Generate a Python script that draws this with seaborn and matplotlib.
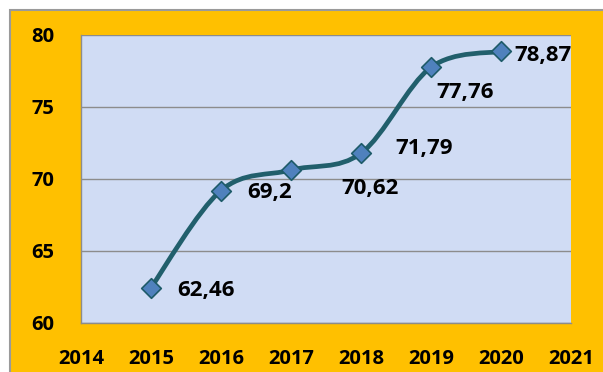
import matplotlib
matplotlib.use("Agg")
import matplotlib.pyplot as plt
from matplotlib.path import Path
from matplotlib.patches import PathPatch, Rectangle
import numpy as np
import pandas as pd
import seaborn as sns

# Values per year
years = [2015, 2016, 2017, 2018, 2019, 2020]
values = [62.46, 69.2, 70.62, 71.79, 77.76, 78.87]
value_labels = ["62,46", "69,2", "70,62", "71,79", "77,76", "78,87"]
x_ticks = [2014, 2015, 2016, 2017, 2018, 2019, 2020, 2021]
y_ticks = [60, 65, 70, 75, 80]

# label offsets in pixels from each marker
label_offsets = [(26, -3), (26, -2), (50, -18), (34, 5), (5, -25), (13, -4)]

sns.set_style("white")
plt.rcParams["font.family"] = ["Open Sans", "DejaVu Sans"]

W, H, DPI = 603, 372, 100
fig = plt.figure(figsize=(W / DPI, H / DPI), dpi=DPI, facecolor="white")

# yellow chart frame
frame = Rectangle((10 / W, -0.02), 1.0, 1 - 10 / H + 0.02, transform=fig.transFigure,
                  facecolor="#FFC000", edgecolor="#9A9A9A", linewidth=1.5, zorder=-10)
fig.add_artist(frame)

ax = fig.add_axes([81 / W, 49 / H, 490 / W, 288 / H])
ax.set_zorder(1)
ax.set_facecolor("#D0DCF4")

df = pd.DataFrame({"year": years, "value": values})

# smoothed line through the points (cubic Bezier segments, Catmull-Rom style)
pts = np.column_stack([years, values]).astype(float)
ext = np.vstack([pts[0], pts, pts[-1]])
verts = [tuple(pts[0])]
codes = [Path.MOVETO]
for i in range(len(pts) - 1):
    p0, p1, p2, p3 = ext[i], ext[i + 1], ext[i + 2], ext[i + 3]
    c1 = p1 + (p2 - p0) / 6.0
    c2 = p2 - (p3 - p1) / 6.0
    verts += [tuple(c1), tuple(c2), tuple(p2)]
    codes += [Path.CURVE4, Path.CURVE4, Path.CURVE4]
curve = PathPatch(Path(verts, codes), facecolor="none", edgecolor="#215F6C",
                  linewidth=3.4, capstyle="round", joinstyle="round", zorder=3)
ax.add_patch(curve)

sns.scatterplot(data=df, x="year", y="value", marker="D", s=100,
                color="#4F81BD", edgecolor="#1E5B69", linewidth=1.2,
                zorder=4, ax=ax, legend=False, clip_on=False)

for x, y, lab, (dx, dy) in zip(years, values, value_labels, label_offsets):
    ax.annotate(lab, (x, y), xytext=(dx, dy), textcoords="offset pixels",
                ha="left", va="center", fontsize=16, fontweight="bold",
                color="black", zorder=5, annotation_clip=False)

ax.set_xlim(2014, 2021)
ax.set_ylim(60, 80)
ax.set_xticks(x_ticks)
ax.set_yticks(y_ticks)
ax.set_xticklabels([str(t) for t in x_ticks])
ax.set_yticklabels([str(t) for t in y_ticks])
ax.set_xlabel("")
ax.set_ylabel("")

ax.yaxis.grid(True, color="#8C8C8C", linewidth=1.0)
ax.xaxis.grid(False)
ax.set_axisbelow(True)

for side in ["top", "right"]:
    ax.spines[side].set_visible(False)
for side in ["left", "bottom"]:
    ax.spines[side].set_visible(True)
    ax.spines[side].set_color("#8C8C8C")
    ax.spines[side].set_linewidth(1.0)

ax.tick_params(axis="both", which="major", length=6.5, width=1.0, color="#8C8C8C",
               labelsize=14.5, labelcolor="black", direction="out")
ax.tick_params(axis="y", pad=13)
ax.tick_params(axis="x", pad=12)
for t in ax.get_xticklabels() + ax.get_yticklabels():
    t.set_fontweight("bold")

fig.savefig("out.png", dpi=DPI, facecolor=fig.get_facecolor())
